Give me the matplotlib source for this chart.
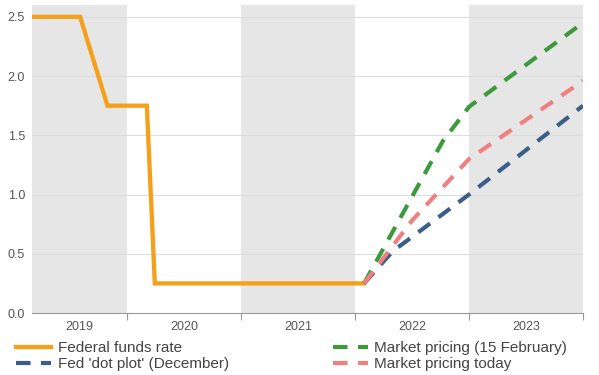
import matplotlib
matplotlib.use("Agg")
import matplotlib.pyplot as plt

plt.rcParams['font.family'] = ['Liberation Sans', 'DejaVu Sans']

# Data (x in fractional years)
ffr_x = [2019.168, 2019.59, 2019.83, 2020.175, 2020.245, 2022.08]
ffr_y = [2.50, 2.50, 1.75, 1.75, 0.25, 0.25]

dot_x = [2022.08, 2022.33, 2023.0, 2024.0]
dot_y = [0.25, 0.52, 1.00, 1.75]

feb_x = [2022.08, 2022.77, 2023.0, 2024.0]
feb_y = [0.25, 1.45, 1.74, 2.45]

today_x = [2022.08, 2022.5, 2023.0, 2024.0]
today_y = [0.25, 0.78, 1.30, 1.96]

years = [2019, 2020, 2021, 2022, 2023]
shaded_years = [2019, 2021, 2023]

xmin, xmax = 2019.168, 2024.0

fig = plt.figure(figsize=(5.99, 3.75), dpi=100)
ax = fig.add_axes([32/599, 1-313/375, (583-32)/599, (313-5)/375])

for yr in shaded_years:
    ax.axvspan(max(yr, xmin), min(yr+1, xmax), color='#e6e6e6', zorder=0, lw=0)

ax.plot(ffr_x, ffr_y, color='#F5A01A', lw=3.1, solid_joinstyle='miter', zorder=3,
        label='Federal funds rate')
ax.plot(dot_x, dot_y, color='#3D5E8A', lw=3.0, dashes=(3.5, 2.5), zorder=4,
        label="Fed 'dot plot' (December)")
ax.plot(feb_x, feb_y, color='#3C9A3C', lw=3.0, dashes=(3.5, 2.5), zorder=4,
        label='Market pricing (15 February)')
ax.plot(today_x, today_y, color='#F08080', lw=3.0, dashes=(3.5, 2.5), zorder=4,
        label='Market pricing today')

ax.set_xlim(xmin, xmax)
ax.set_ylim(0, 2.6)
ax.set_yticks([0, 0.5, 1.0, 1.5, 2.0, 2.5])
ax.set_yticklabels(['0.0', '0.5', '1.0', '1.5', '2.0', '2.5'])
ax.yaxis.grid(True, color='#dddddd', lw=0.8)
ax.set_axisbelow(True)

ax.set_xticks([2020, 2021, 2022, 2023, 2024])
ax.set_xticklabels([])
centers = [(max(y, xmin) + min(y+1, xmax)) / 2 for y in years]
ax.set_xticks(centers, minor=True)
ax.set_xticklabels([str(y) for y in years], minor=True)
ax.tick_params(axis='x', which='major', length=5, color='#999999', width=0.8)
ax.tick_params(axis='x', which='minor', length=0, labelsize=9, labelcolor='#555555', pad=6)
ax.tick_params(axis='y', length=0, labelsize=9, labelcolor='#555555', pad=5)

for s in ['top', 'right', 'left']:
    ax.spines[s].set_visible(False)
ax.spines['bottom'].set_color('#999999')
ax.spines['bottom'].set_linewidth(0.8)

handles, labels = ax.get_legend_handles_labels()
leg = fig.legend(handles, labels,
                 loc='lower left', bbox_to_anchor=(0.012, -0.014), ncol=2,
                 frameon=False, fontsize=11, handlelength=2.3, handletextpad=0.4,
                 columnspacing=6.8, labelspacing=0.12, borderaxespad=0.2)
for t in leg.get_texts():
    t.set_color('#444444')

fig.savefig('out.png', dpi=100)
